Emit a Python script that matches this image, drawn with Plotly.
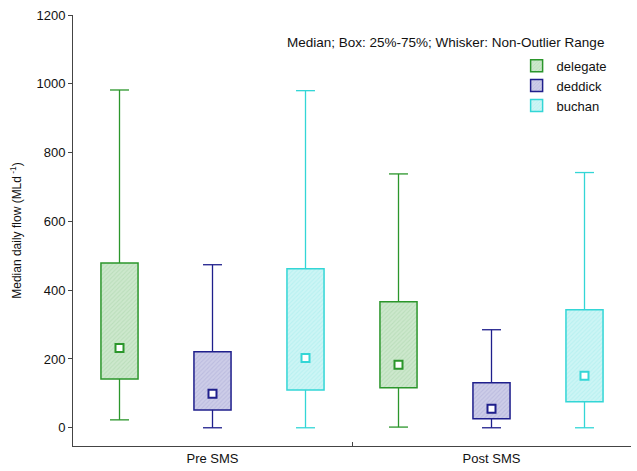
import plotly.graph_objects as go

# Flow summary statistics (ML/day) for each river, before and after SMS
periods = ["Pre SMS", "Post SMS"]
rivers = ["delegate", "deddick", "buchan"]

median = {"delegate": [232, 183], "deddick": [99, 55], "buchan": [203, 151]}
q1 = {"delegate": [142, 116], "deddick": [52, 26], "buchan": [110, 76]}
q3 = {"delegate": [479, 366], "deddick": [221, 131], "buchan": [462, 343]}
low = {"delegate": [23, 2], "deddick": [0, 0], "buchan": [0, 0]}
high = {"delegate": [982, 738], "deddick": [474, 285], "buchan": [980, 742]}

edge = {"delegate": "#2b962b", "deddick": "#1f1f8c", "buchan": "#33d6d6"}
pale = {"delegate": "#cde8cd", "deddick": "#cdcde8", "buchan": "#cdf5f5"}
hatch = {"delegate": "#a8d4a8", "deddick": "#aaaad6", "buchan": "#a4ecec"}

y_ticks = [0, 200, 400, 600, 800, 1000, 1200]

offsets = [-1 / 3, 0, 1 / 3]
box_w = 0.133
cap_half = 0.034

fig = go.Figure()

for r, off in zip(rivers, offsets):
    xs = [i + off for i in range(len(periods))]
    # interquartile box
    fig.add_trace(go.Bar(
        x=xs,
        base=q1[r],
        y=[b - a for a, b in zip(q1[r], q3[r])],
        width=box_w,
        name=r,
        marker=dict(
            color=pale[r],
            line=dict(color=edge[r], width=1.5),
            pattern=dict(shape="/", fgcolor=hatch[r], bgcolor=pale[r],
                         size=3, solidity=0.35),
        ),
        hoverinfo="skip",
    ))
    # whiskers and caps
    wx, wy = [], []
    for x, a, b, lo, hi in zip(xs, q1[r], q3[r], low[r], high[r]):
        wx += [x, x, None, x, x, None,
               x - cap_half, x + cap_half, None, x - cap_half, x + cap_half, None]
        wy += [b, hi, None, lo, a, None, hi, hi, None, lo, lo, None]
    fig.add_trace(go.Scatter(
        x=wx, y=wy, mode="lines", line=dict(color=edge[r], width=1.3),
        showlegend=False, hoverinfo="skip",
    ))
    # median marker
    fig.add_trace(go.Scatter(
        x=xs, y=median[r], mode="markers",
        marker=dict(symbol="square", size=8, color="white",
                    line=dict(color=edge[r], width=2)),
        showlegend=False,
    ))

fig.add_annotation(
    text="Median; Box: 25%-75%; Whisker: Non-Outlier Range",
    xref="paper", yref="paper", x=0.667, y=0.937,
    xanchor="center", yanchor="middle",
    showarrow=False, font=dict(size=13.5, color="#111"),
)

fig.update_layout(
    width=637, height=471,
    margin=dict(l=73, r=6, t=15, b=25),
    paper_bgcolor="white", plot_bgcolor="white",
    barmode="overlay",
    font=dict(family="Liberation Sans, Arial, sans-serif", color="#111", size=12),
    showlegend=True,
    legend=dict(x=0.795, y=0.917, xanchor="left", yanchor="top",
                font=dict(size=13), bgcolor="rgba(0,0,0,0)",
                tracegroupgap=0, itemwidth=30),
    xaxis=dict(
        range=[-0.5, 1.5], showgrid=False, zeroline=False,
        showline=True, linecolor="#444", linewidth=1,
        tickmode="array", tickvals=list(range(len(periods))), ticktext=periods,
        ticks="", tickfont=dict(size=13),
        minor=dict(tickvals=[0.5], ticks="inside", ticklen=4, tickcolor="#444"),
    ),
    yaxis=dict(
        range=[-53, 1200], showgrid=False, zeroline=False,
        showline=True, linecolor="#444", linewidth=1,
        tickmode="array", tickvals=y_ticks,
        ticks="outside", ticklen=4, tickcolor="#444",
        tickfont=dict(size=13),
        title=dict(text="Median daily flow (MLd<sup> -1</sup>)",
                   font=dict(size=12), standoff=12),
    ),
)

fig.write_html("out.html")
